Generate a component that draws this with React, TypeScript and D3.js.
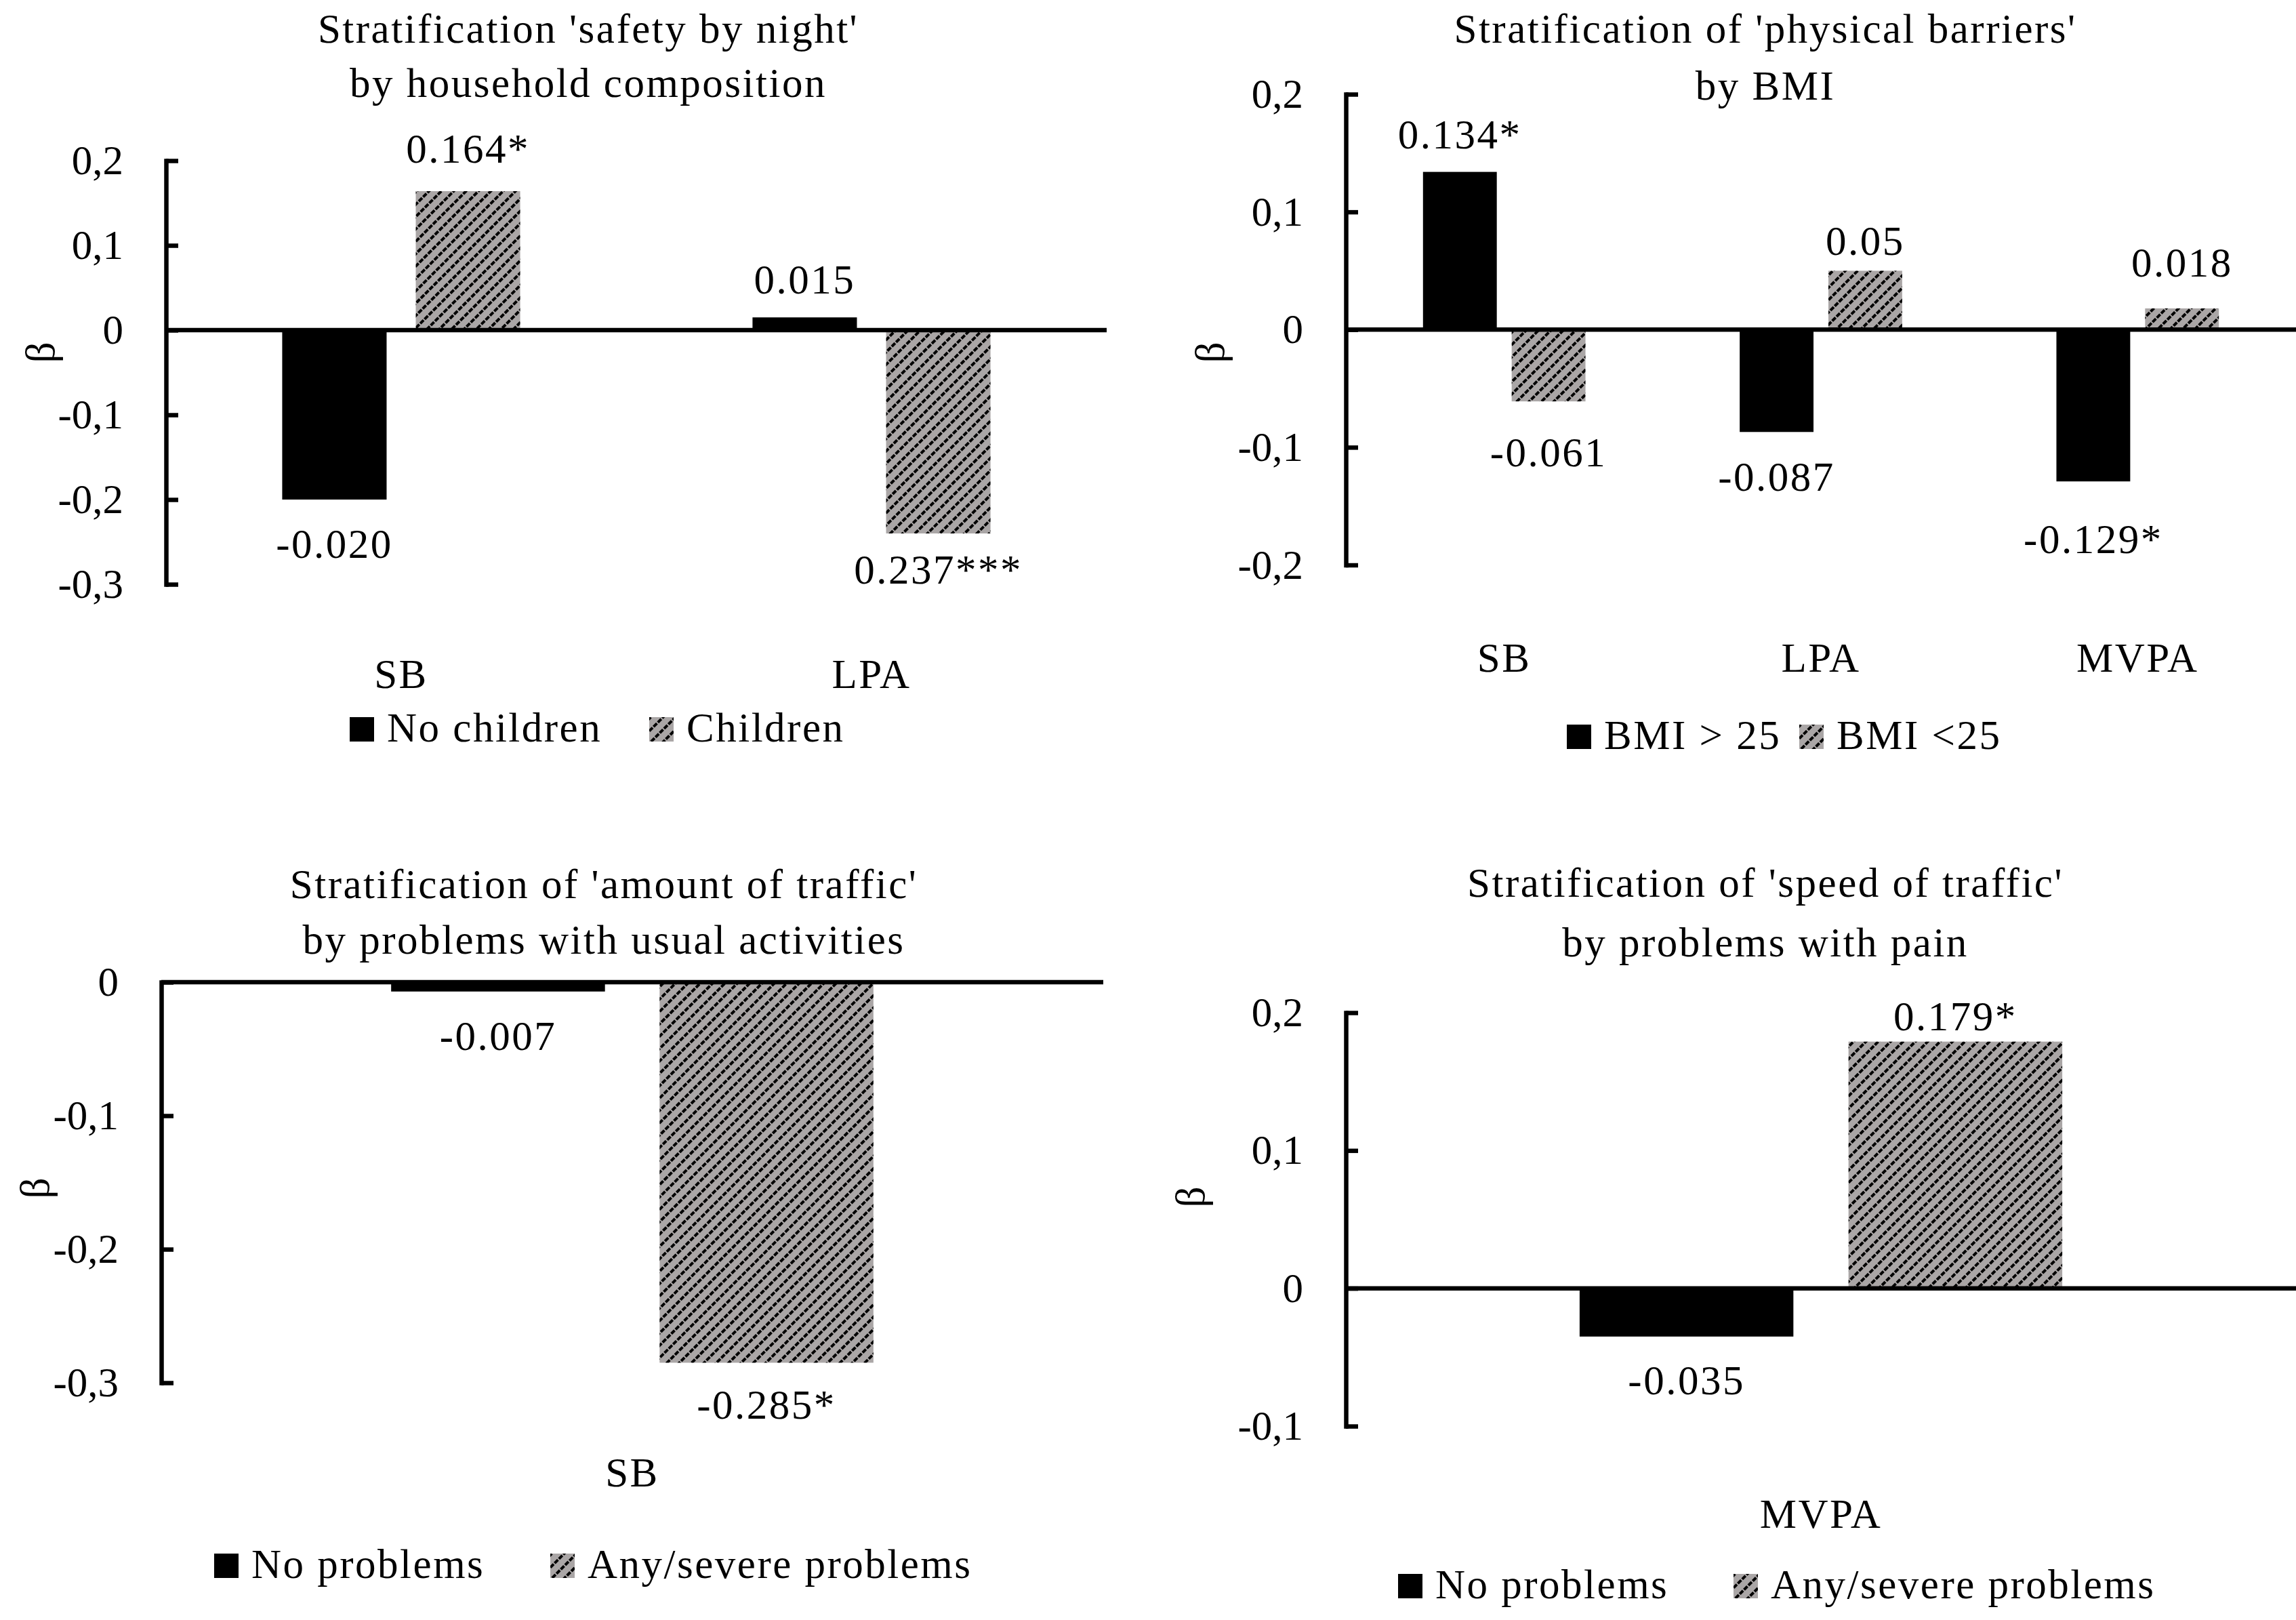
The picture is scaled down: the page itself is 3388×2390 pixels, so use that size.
import { useEffect, useRef } from "react";
import * as d3 from "d3";

const FONT = "'Liberation Serif', 'Times New Roman', serif";

// --- top left: safety by night
const titleA = ["Stratification 'safety by night'", "by household composition"];
const categoriesA = ["SB", "LPA"];
const seriesA = ["No children", "Children"];
const noChildrenA = [-0.2, 0.015];
const childrenA = [0.164, -0.24];
const labelsNoChildrenA = ["-0.020", "0.015"];
const labelsChildrenA = ["0.164*", "0.237***"];
const ticksA = [0.2, 0.1, 0, -0.1, -0.2, -0.3];

// --- top right: physical barriers
const titleB = ["Stratification of 'physical barriers'", "by BMI"];
const categoriesB = ["SB", "LPA", "MVPA"];
const seriesB = ["BMI > 25", "BMI <25"];
const bmiOver25 = [0.134, -0.087, -0.129];
const bmiUnder25 = [-0.061, 0.05, 0.018];
const labelsOver25 = ["0.134*", "-0.087", "-0.129*"];
const labelsUnder25 = ["-0.061", "0.05", "0.018"];
const ticksB = [0.2, 0.1, 0, -0.1, -0.2];

// --- bottom left: amount of traffic
const titleC = ["Stratification of 'amount of traffic'", "by problems with usual activities"];
const categoriesC = ["SB"];
const seriesC = ["No problems", "Any/severe problems"];
const noProblemsC = [-0.007];
const anyProblemsC = [-0.285];
const labelsNoProblemsC = ["-0.007"];
const labelsAnyProblemsC = ["-0.285*"];
const ticksC = [0, -0.1, -0.2, -0.3];

// --- bottom right: speed of traffic
const titleD = ["Stratification of 'speed of traffic'", "by problems with pain"];
const categoriesD = ["MVPA"];
const seriesD = ["No problems", "Any/severe problems"];
const noProblemsD = [-0.035];
const anyProblemsD = [0.179];
const labelsNoProblemsD = ["-0.035"];
const labelsAnyProblemsD = ["0.179*"];
const ticksD = [0.2, 0.1, 0, -0.1];

const panels = [
  {
    title: titleA, categories: categoriesA, series: seriesA,
    values: [noChildrenA, childrenA], labels: [labelsNoChildrenA, labelsChildrenA], ticks: ticksA,
    axisX: 245, plotRight: 1633, yTop: 237, yBottom: 862,
    barFrac: 0.222, gapFrac: 0.062,
    titleX: 868, titleY: [63, 143], catY: 1015,
    legendY: 1094, legendX: [516, 958],
    betaX: 59, betaY: 520,
    labelOff: [[86, 35], [42, 74]],
  },
  {
    title: titleB, categories: categoriesB, series: seriesB,
    values: [bmiOver25, bmiUnder25], labels: [labelsOver25, labelsUnder25], ticks: ticksB,
    axisX: 1986, plotRight: 3388, yTop: 139, yBottom: 833.5,
    barFrac: 0.233, gapFrac: 0.047,
    titleX: 2605, titleY: [63, 147], catY: 991,
    legendY: 1105, legendX: [2312, 2655],
    betaX: 1785, betaY: 520,
    labelOff: [[35, 87, 106], [96, 23, 47]],
  },
  {
    title: titleC, categories: categoriesC, series: seriesC,
    values: [noProblemsC, anyProblemsC], labels: [labelsNoProblemsC, labelsAnyProblemsC], ticks: ticksC,
    axisX: 238, plotRight: 1628, yTop: 1449, yBottom: 2040,
    barFrac: 0.227, gapFrac: 0.058,
    titleX: 891, titleY: [1325, 1407], catY: 2193,
    legendY: 2328, legendX: [316, 812],
    betaX: 51, betaY: 1753,
    labelOff: [[86], [83]],
  },
  {
    title: titleD, categories: categoriesD, series: seriesD,
    values: [noProblemsD, anyProblemsD], labels: [labelsNoProblemsD, labelsAnyProblemsD], ticks: ticksD,
    axisX: 1986, plotRight: 3388, yTop: 1494, yBottom: 2104,
    barFrac: 0.225, gapFrac: 0.058,
    titleX: 2605, titleY: [1323, 1411], catY: 2254,
    legendY: 2358, legendX: [2063, 2558],
    betaX: 1756, betaY: 1766,
    labelOff: [[85], [17]],
  },
];

const fmtTick = (v: number) =>
  v === 0 ? "0" : (v < 0 ? "-" : "") + Math.abs(v).toFixed(1).replace(".", ",");

const fills = ["#000", "url(#hatch)"];

function drawPanel(svg: any, p: any) {
  const g = svg.append("g");

  const y = d3
    .scaleLinear()
    .domain([d3.min(p.ticks), d3.max(p.ticks)])
    .range([p.yBottom, p.yTop]);

  const x0 = d3.scaleBand().domain(p.categories).range([p.axisX, p.plotRight]);
  const step = p.barFrac + p.gapFrac;
  const x1 = d3
    .scaleBand()
    .domain(p.series)
    .range([0, x0.bandwidth()])
    .paddingInner(p.gapFrac / step)
    .paddingOuter((1 - 2 * p.barFrac - p.gapFrac) / 2 / step);

  const rows = p.series.flatMap((s: string, si: number) =>
    p.categories.map((c: string, ci: number) => ({
      s, si, c, ci, v: p.values[si][ci], label: p.labels[si][ci], off: p.labelOff[si][ci],
    }))
  );

  // bars
  g.selectAll("rect.bar")
    .data(rows)
    .join("rect")
    .attr("class", "bar")
    .attr("x", (d: any) => x0(d.c)! + x1(d.s)!)
    .attr("width", x1.bandwidth())
    .attr("y", (d: any) => y(Math.max(0, d.v)))
    .attr("height", (d: any) => Math.abs(y(d.v) - y(0)))
    .attr("fill", (d: any) => fills[d.si]);

  // value labels
  g.selectAll("text.val")
    .data(rows)
    .join("text")
    .attr("class", "val")
    .attr("x", (d: any) => x0(d.c)! + x1(d.s)! + x1.bandwidth() / 2)
    .attr("y", (d: any) => (d.v >= 0 ? y(d.v) - d.off : y(d.v) + d.off))
    .attr("text-anchor", "middle")
    .attr("font-size", 61)
    .attr("letter-spacing", 2.5)
    .text((d: any) => d.label);

  // y axis, ticks point inward
  const axis = d3
    .axisLeft(y)
    .tickValues(p.ticks)
    .tickSizeInner(-18)
    .tickSizeOuter(0)
    .tickPadding(63)
    .tickFormat((d: any) => fmtTick(d));
  const ag = g
    .append("g")
    .attr("transform", `translate(${p.axisX},0)`)
    .call(axis)
    .attr("font-size", null)
    .attr("font-family", null);
  ag.select(".domain").attr("stroke", "#000").attr("stroke-width", 6.5).attr("stroke-linecap", "square");
  ag.selectAll(".tick line").attr("stroke", "#000").attr("stroke-width", 6.5);
  ag.selectAll(".tick text").attr("fill", "#000").attr("font-size", 61);

  // zero line over the bars
  g.append("line")
    .attr("x1", p.axisX)
    .attr("x2", p.plotRight)
    .attr("y1", y(0))
    .attr("y2", y(0))
    .attr("stroke", "#000")
    .attr("stroke-width", 6.5);

  // category labels
  g.selectAll("text.cat")
    .data(p.categories)
    .join("text")
    .attr("class", "cat")
    .attr("x", (c: string) => x0(c)! + x0.bandwidth() / 2)
    .attr("y", p.catY)
    .attr("text-anchor", "middle")
    .attr("font-size", 61)
    .attr("letter-spacing", 2.5)
    .text((c: string) => c);

  // title
  g.selectAll("text.title")
    .data(p.title)
    .join("text")
    .attr("class", "title")
    .attr("x", p.titleX)
    .attr("y", (_: any, i: number) => p.titleY[i])
    .attr("text-anchor", "middle")
    .attr("font-size", 61)
    .attr("letter-spacing", 2.5)
    .text((t: string) => t);

  // y axis title
  g.append("text")
    .attr("transform", `translate(${p.betaX},${p.betaY}) rotate(-90)`)
    .attr("text-anchor", "middle")
    .attr("dominant-baseline", "central")
    .attr("font-size", 61)
    .text("β");

  // legend
  const lg = g
    .selectAll("g.leg")
    .data(p.series)
    .join("g")
    .attr("class", "leg")
    .attr("transform", (_: any, i: number) => `translate(${p.legendX[i]},${p.legendY})`);
  lg.append("rect")
    .attr("x", 0)
    .attr("y", -36)
    .attr("width", 36)
    .attr("height", 36)
    .attr("fill", (_: any, i: number) => fills[i]);
  lg.append("text")
    .attr("x", 55)
    .attr("y", 0)
    .attr("font-size", 61)
    .attr("letter-spacing", 2.5)
    .text((s: string) => s);
}

const App = () => {
  const svgRef = useRef<SVGSVGElement>(null);

  useEffect(() => {
    const svg = d3.select(svgRef.current).select("g.charts");
    svg.selectAll("*").remove();
    panels.forEach((p) => drawPanel(svg, p));
    return () => {
      svg.selectAll("*").remove();
    };
  }, []);

  return (
    <svg
      ref={svgRef}
      width={3388}
      height={2390}
      style={{ position: "absolute", left: 0, top: 0, background: "#fff" }}
      fontFamily={FONT}
    >
      <defs>
        {/* "/" stripes, dotted like the upscaled excel pattern */}
        <pattern
          id="hatch"
          patternUnits="userSpaceOnUse"
          width={12.9}
          height={9}
          patternTransform="rotate(45)"
        >
          <rect width={12.9} height={9} fill="#aaa6a6" />
          <rect x={0} y={0} width={4} height={7} fill="#000" />
        </pattern>
      </defs>
      <rect width={3388} height={2390} fill="#fff" />
      <g className="charts" />
    </svg>
  );
};

export default App;
